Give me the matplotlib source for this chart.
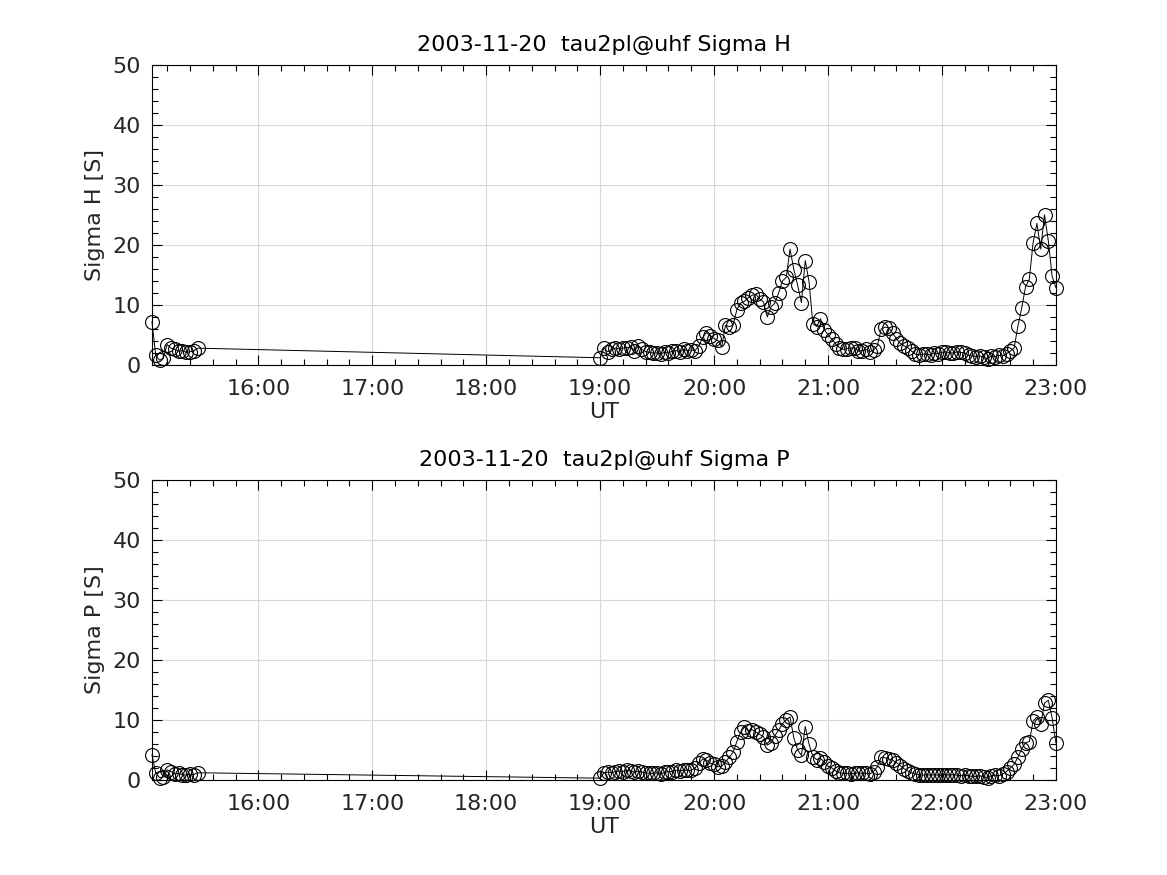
import numpy as np
import matplotlib
matplotlib.use("Agg")
import matplotlib.pyplot as plt
from matplotlib.ticker import MultipleLocator, FuncFormatter

# sampling: two data blocks, 2 min cadence (times in hours UT)
block1_start = 15 + 4 / 60.0
block2_start = 19.0
cadence = 2 / 60.0

# Sigma H [S]
sigma_h_1 = [7.2, 1.6, 0.8, 1.1, 3.4, 2.8, 2.6, 2.3, 2.4, 2.1, 2.2, 2.3, 2.8]
sigma_h_2 = [1.2, 2.8, 2.2, 2.6, 2.8, 2.7, 2.8, 2.9, 3.0, 2.4,
             3.1, 2.6, 2.2, 2.1, 2.0, 2.0, 1.9, 2.1, 2.0, 2.3,
             2.4, 2.2, 2.6, 2.4, 2.5, 2.4, 3.2, 4.6, 5.4, 4.9,
             4.4, 4.1, 3.0, 6.6, 6.4, 6.6, 9.2, 10.3, 10.6, 11.2,
             11.6, 11.8, 11.0, 10.5, 8.0, 9.7, 10.3, 12.0, 14.0, 14.6,
             19.3, 15.9, 13.3, 10.4, 17.4, 13.9, 6.9, 6.4, 7.7, 5.9,
             5.0, 4.3, 3.5, 2.9, 2.6, 2.7, 2.8, 2.9, 2.3, 2.4,
             2.6, 2.2, 2.5, 3.2, 6.0, 6.3, 6.2, 5.3, 4.4, 3.6,
             3.2, 2.9, 2.3, 1.8, 1.7, 1.8, 1.8, 1.7, 2.0, 1.9,
             2.1, 2.2, 2.0, 2.0, 2.2, 2.1, 2.0, 1.6, 1.5, 1.4,
             1.5, 1.3, 1.0, 1.5, 1.4, 1.6, 1.5, 1.9, 2.3, 2.8,
             6.5, 9.5, 13.0, 14.3, 20.4, 23.6, 19.3, 25.0, 20.7, 14.8,
             12.9]

# Sigma P [S]
sigma_p_1 = [4.2, 1.2, 0.4, 0.5, 1.7, 1.4, 1.0, 1.1, 0.9, 0.8, 1.0, 0.9, 1.2]
sigma_p_2 = [0.3, 1.2, 1.3, 1.2, 1.4, 1.5, 1.4, 1.6, 1.5, 1.3,
             1.5, 1.3, 1.2, 1.1, 1.1, 1.2, 1.0, 1.3, 1.4, 1.4,
             1.6, 1.5, 1.7, 1.6, 1.6, 2.0, 2.8, 3.5, 3.3, 2.8,
             2.6, 2.2, 2.3, 3.0, 3.8, 4.6, 6.4, 8.0, 8.8, 8.2,
             8.4, 8.0, 7.6, 7.2, 5.8, 6.2, 7.4, 8.3, 9.4, 10.0,
             10.5, 7.0, 5.0, 4.1, 8.9, 6.0, 3.9, 3.4, 3.6, 3.0,
             2.3, 2.0, 1.5, 1.2, 1.1, 1.1, 1.0, 1.1, 1.2, 1.1,
             1.1, 1.0, 1.4, 2.2, 3.8, 3.7, 3.5, 3.3, 2.9, 2.4,
             1.9, 1.5, 1.2, 1.0, 0.9, 0.8, 0.9, 0.8, 0.9, 0.8,
             0.8, 0.9, 0.8, 0.9, 0.8, 0.7, 0.8, 0.7, 0.6, 0.6,
             0.7, 0.5, 0.4, 0.7, 0.8, 0.7, 1.0, 1.4, 2.0, 2.6,
             3.8, 5.2, 6.2, 6.4, 9.8, 10.5, 9.3, 12.8, 13.3, 10.4,
             6.2]

date_str = "2003-11-20"
exp_str = "tau2pl@uhf"

t1 = block1_start + cadence * np.arange(len(sigma_h_1))
t2 = block2_start + cadence * np.arange(len(sigma_h_2))
t = np.concatenate([t1, t2])
sig_h = np.concatenate([sigma_h_1, sigma_h_2])
sig_p = np.concatenate([sigma_p_1, sigma_p_2])

plt.rcParams['font.family'] = 'DejaVu Sans'
txt = '#262626'

fig = plt.figure(figsize=(11.67, 8.75), dpi=100)
ax1 = fig.add_axes([0.1302, 0.5829, 0.7746, 0.3429])
ax2 = fig.add_axes([0.1302, 0.1086, 0.7746, 0.3429])


def hhmm(x, pos):
    h = int(round(x * 60)) // 60
    m = int(round(x * 60)) % 60
    return f"{h:02d}:{m:02d}"


for ax, y, name in [(ax1, sig_h, 'H'), (ax2, sig_p, 'P')]:
    ax.plot(t, y, color='black', linewidth=0.7, marker='o', markersize=10,
            markerfacecolor='none', markeredgecolor='black', markeredgewidth=0.8,
            clip_on=False, zorder=3)
    ax.set_xlim(t[0], t[-1])
    ax.set_ylim(0, 50)
    ax.xaxis.set_major_locator(MultipleLocator(1))
    ax.xaxis.set_minor_locator(MultipleLocator(0.2))
    ax.xaxis.set_major_formatter(FuncFormatter(hhmm))
    ax.yaxis.set_major_locator(MultipleLocator(10))
    ax.yaxis.set_minor_locator(MultipleLocator(2))
    ax.grid(True, which='major', color='#d8d8d8', linewidth=0.8)
    ax.set_axisbelow(True)
    ax.tick_params(which='both', direction='in', top=True, right=True,
                   labelsize=16, colors='black', labelcolor=txt, width=0.8)
    ax.tick_params(axis='x', which='major', length=7, pad=10)
    ax.tick_params(axis='y', which='major', length=7, pad=8)
    ax.tick_params(which='minor', length=4)
    for s in ax.spines.values():
        s.set_linewidth(0.8)
    ax.set_title(f"{date_str}  {exp_str} Sigma {name}", fontsize=16, color='black', pad=10)
    ax.set_xlabel("UT", fontsize=16, color=txt, labelpad=2)
    ax.set_ylabel(f"Sigma {name} [S]", fontsize=16, color=txt, labelpad=5)

fig.savefig("out.png", dpi=100)
